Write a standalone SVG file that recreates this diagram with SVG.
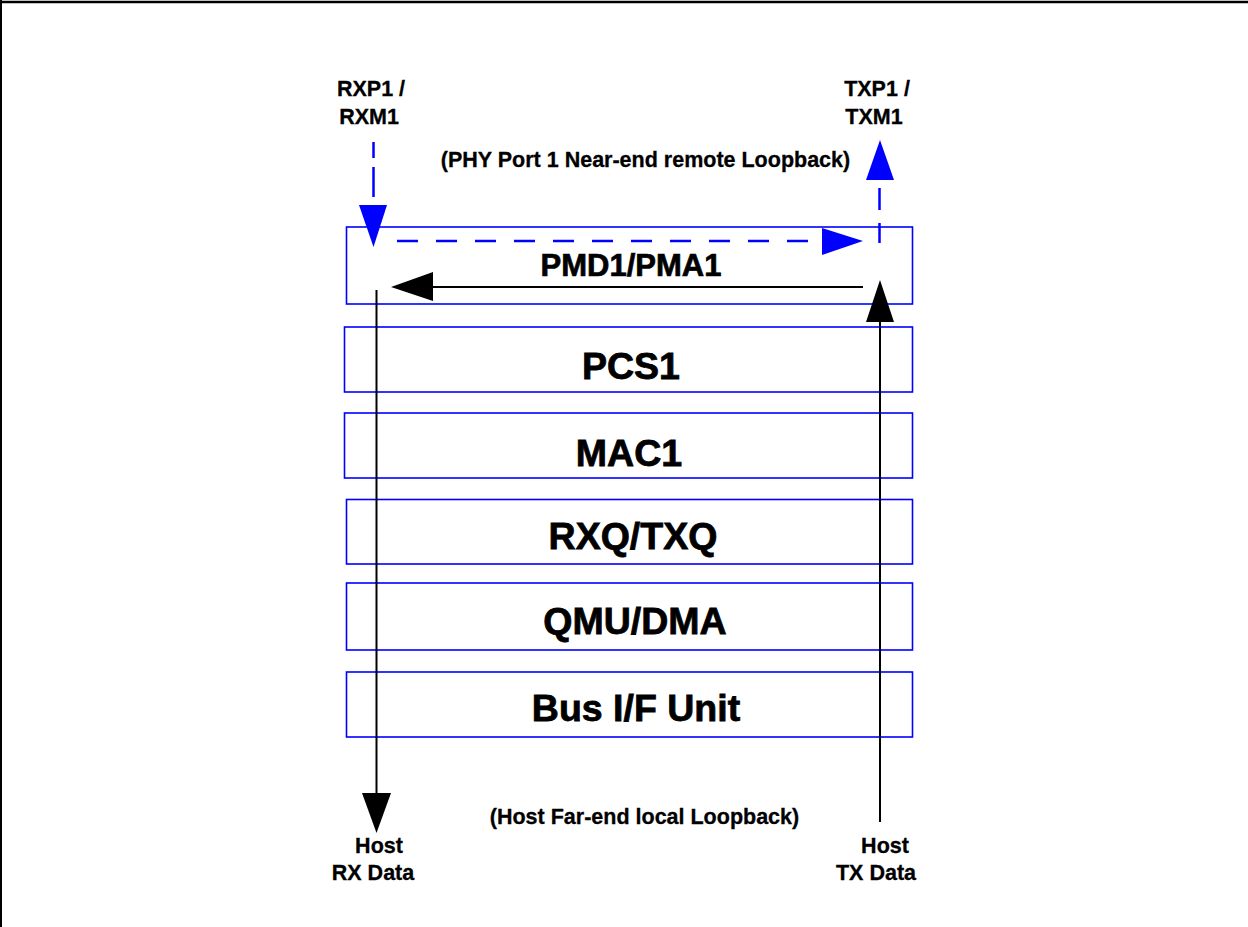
<svg xmlns="http://www.w3.org/2000/svg" width="1248" height="927" viewBox="0 0 1248 927">
<style>
.box{fill:#fff;stroke:#0000ff;stroke-width:1.6}
.big{font-family:"Liberation Sans",Arial,sans-serif;font-weight:bold;font-size:37.5px;text-anchor:middle;fill:#000;stroke:#000;stroke-width:0.8}
.mid{font-family:"Liberation Sans",Arial,sans-serif;font-weight:bold;font-size:31px;text-anchor:middle;fill:#000;stroke:#000;stroke-width:0.7}
.sm{font-family:"Liberation Sans",Arial,sans-serif;font-weight:bold;font-size:21.5px;text-anchor:middle;fill:#000;stroke:#000;stroke-width:0.3}
.blk{stroke:#000;stroke-width:2;fill:none}
.blu{stroke:#0000ff;stroke-width:2.5;fill:none}
.ahb{fill:#000}
.ahu{fill:#0000ff}
</style>
<rect x="0" y="0" width="1248" height="927" fill="#fff"/>
<g id="frame">
<line x1="0" y1="2" x2="1248" y2="2" stroke="#000" stroke-width="2.5"/>
<line x1="1" y1="0" x2="1" y2="927" stroke="#000" stroke-width="2"/>
</g>
<g id="pmd"><rect class="box" x="346.5" y="227" width="566" height="77"/><text class="mid" x="631" y="276">PMD1/PMA1</text></g>
<g id="pcs"><rect class="box" x="344.5" y="327" width="568" height="65"/><text class="big" x="631" y="379">PCS1</text></g>
<g id="mac"><rect class="box" x="344.5" y="413" width="568" height="65"/><text class="big" x="629" y="466">MAC1</text></g>
<g id="rxq"><rect class="box" x="346.5" y="499.5" width="566" height="64.5"/><text class="big" x="633" y="549">RXQ/TXQ</text></g>
<g id="qmu"><rect class="box" x="346.5" y="583" width="566" height="67"/><text class="big" x="635" y="634">QMU/DMA</text></g>
<g id="bus"><rect class="box" x="346.5" y="672" width="566" height="65"/><text class="big" x="636" y="721">Bus I/F Unit</text></g>
<g id="labels">
<text class="sm" x="371" y="96">RXP1 /</text>
<text class="sm" x="369" y="124">RXM1</text>
<text class="sm" x="877" y="96">TXP1 /</text>
<text class="sm" x="874" y="124">TXM1</text>
<text class="sm" x="645.5" y="167">(PHY Port 1 Near-end remote Loopback)</text>
<text class="sm" x="644.5" y="824">(Host Far-end local Loopback)</text>
<text class="sm" x="379" y="853">Host</text>
<text class="sm" x="373" y="880">RX Data</text>
<text class="sm" x="885" y="853">Host</text>
<text class="sm" x="876" y="880">TX Data</text>
</g>
<g id="connectors">
<line class="blk" x1="376.5" y1="290" x2="376.5" y2="795"/>
<polygon class="ahb" points="362,793 391,793 376.5,833"/>
<line class="blk" x1="880" y1="822" x2="880" y2="320"/>
<polygon class="ahb" points="866,322 894,322 880,280"/>
<line class="blk" x1="863" y1="287" x2="430" y2="287"/>
<polygon class="ahb" points="433,272 433,301 391,287"/>
<line class="blu" x1="397" y1="241" x2="822" y2="241" stroke-dasharray="21 18"/>
<polygon class="ahu" points="822,228 822,255 863,241"/>
<line class="blu" x1="373.5" y1="142" x2="373.5" y2="205" stroke-dasharray="16 9 30 100"/>
<polygon class="ahu" points="359,205 387,205 373.5,247"/>
<line class="blu" x1="879.5" y1="243" x2="879.5" y2="182" stroke-dasharray="20 13 22 100"/>
<polygon class="ahu" points="866,180 894,180 880,140"/>
</g>
</svg>
